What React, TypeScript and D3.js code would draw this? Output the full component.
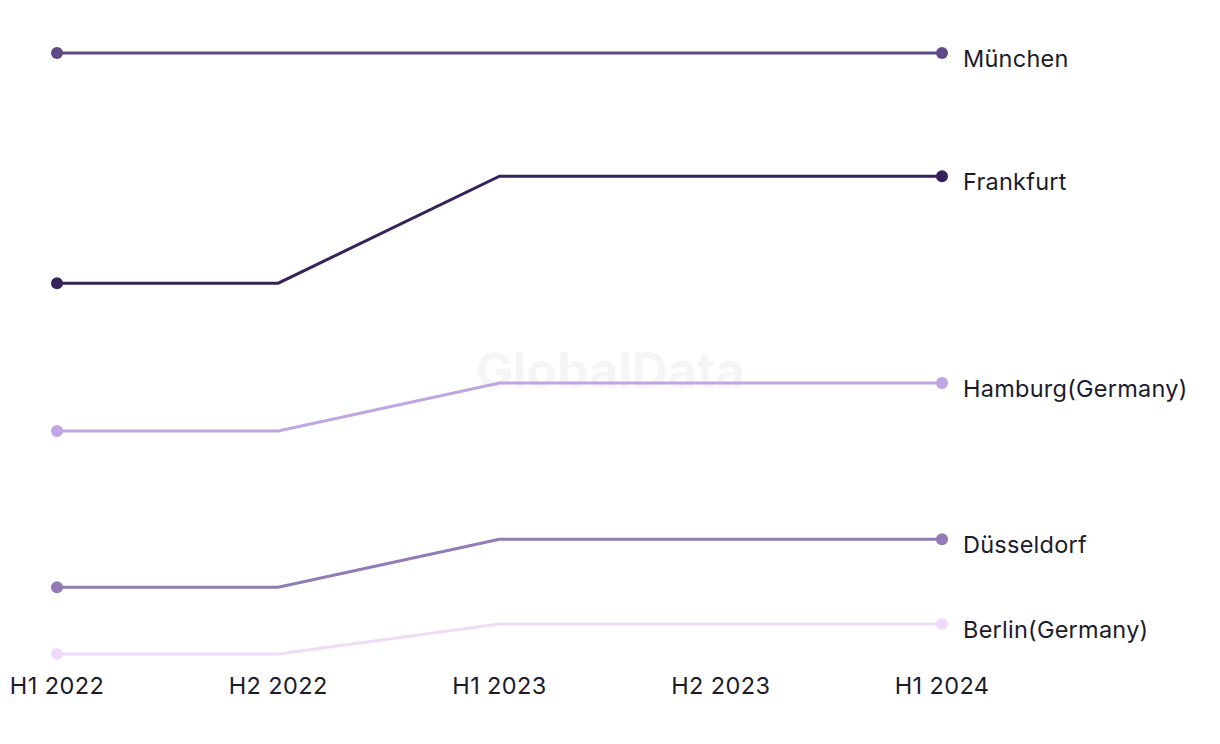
import React from "react";
import * as d3 from "d3";

const periods = ["H1 2022", "H2 2022", "H1 2023", "H2 2023", "H1 2024"];
const cities = ["München", "Frankfurt", "Hamburg(Germany)", "Düsseldorf", "Berlin(Germany)"];
const colors = ["#5e4a88", "#36225a", "#c0a4e4", "#917ab5", "#f0dafa"];
const munchen = [100, 100, 100, 100, 100];
const frankfurt = [61.7, 61.7, 79.5, 79.5, 79.5];
const hamburg = [37.1, 37.1, 45.1, 45.1, 45.1];
const dusseldorf = [11.1, 11.1, 19.1, 19.1, 19.1];
const berlin = [0, 0, 5.0, 5.0, 5.0];
const seriesValues = [munchen, frankfurt, hamburg, dusseldorf, berlin];

export default function App() {
  const W = 1220, H = 744;
  const x = d3.scalePoint<string>().domain(periods).range([57, 942]);
  const y = d3.scaleLinear().domain([0, 100]).range([654, 53]);
  const line = d3.line<number>().x((_, i) => x(periods[i]) as number).y((d) => y(d));
  const font = "Inter, 'Noto Sans', sans-serif";
  return (
    <svg width={W} height={H} style={{ position: "absolute", left: 0, top: 0, display: "block" }}>
      <rect width={W} height={H} fill="#ffffff" />
      <text x={610} y={388} textAnchor="middle" fontFamily={font} fontWeight={700} fontSize={50} fill="#f5f5f5">
        GlobalData
      </text>
      {seriesValues.map((vals, si) => (
        <g key={cities[si]}>
          <path d={line(vals) || ""} fill="none" stroke={colors[si]} strokeWidth={3} />
          <circle cx={x(periods[0])} cy={y(vals[0])} r={6} fill={colors[si]} />
          <circle cx={x(periods[periods.length - 1])} cy={y(vals[vals.length - 1])} r={6} fill={colors[si]} />
          <text x={963} y={y(vals[vals.length - 1]) + 14} fontFamily={font} fontSize={23.5} letterSpacing={0.25} fill="#1c1b2b">
            {cities[si]}
          </text>
        </g>
      ))}
      {periods.map((p) => (
        <text key={p} x={x(p)} y={694} textAnchor="middle" fontFamily={font} fontSize={23.5} letterSpacing={0.4} fill="#1c1b2b">
          {p}
        </text>
      ))}
    </svg>
  );
}
